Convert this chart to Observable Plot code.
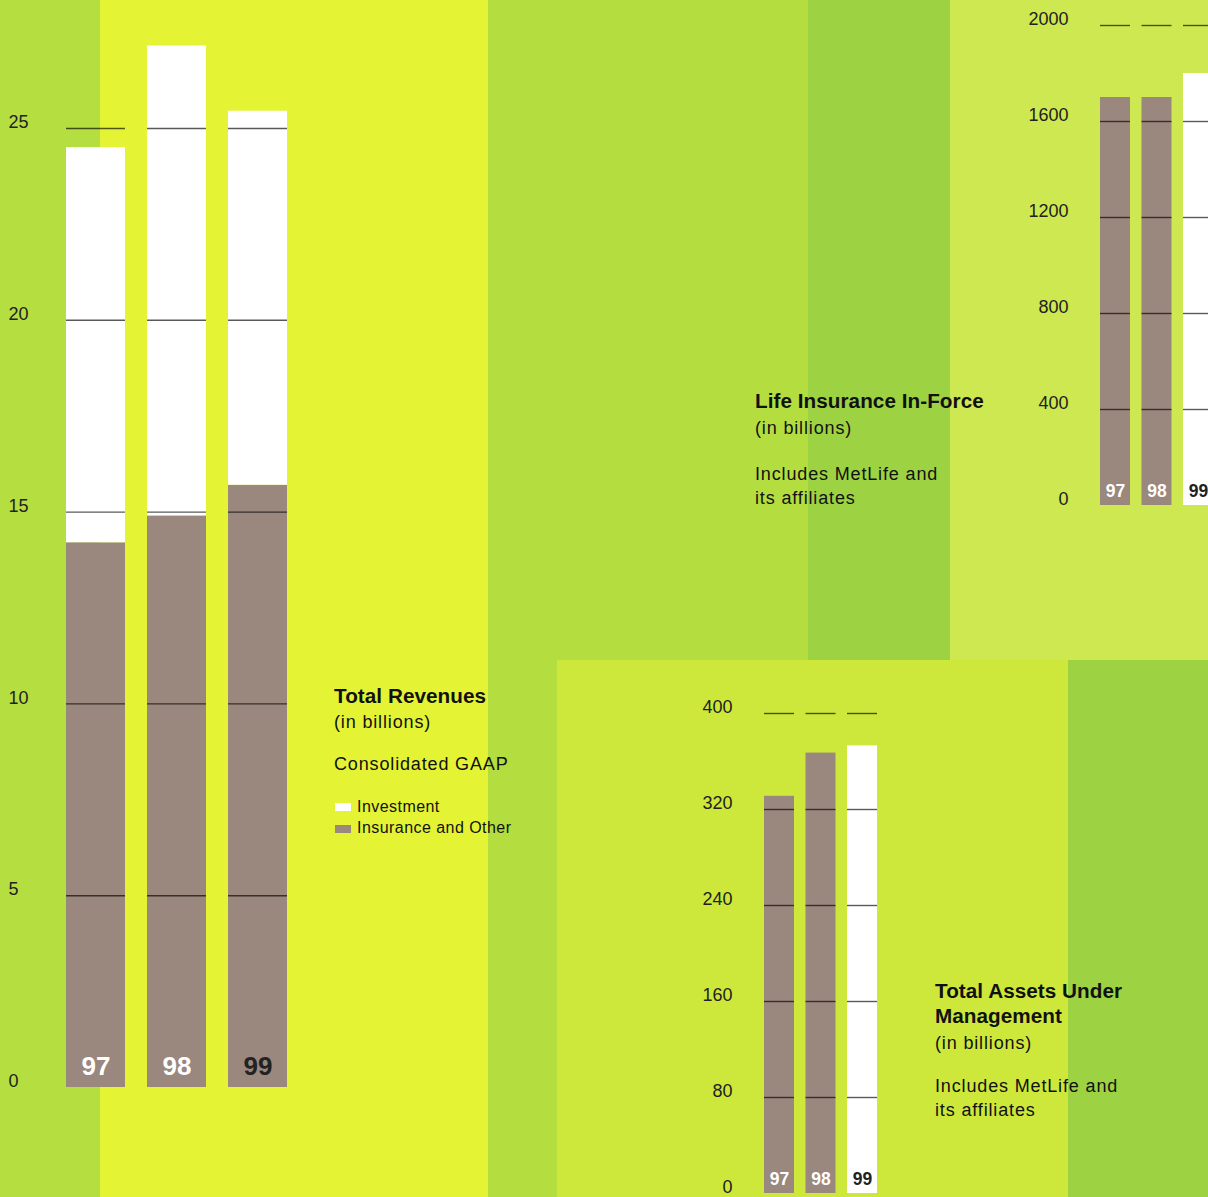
<!DOCTYPE html>
<html><head><meta charset="utf-8">
<script src="https://cdn.jsdelivr.net/npm/d3@7"></script>
<script src="https://cdn.jsdelivr.net/npm/@observablehq/plot@0.6"></script>
<style>
body{margin:0;}
#page{position:relative;width:1208px;height:1197px;overflow:hidden;font-family:"Liberation Sans",Arial,sans-serif;color:#111;}
.bg{position:absolute;}
#page svg{position:absolute;left:0;top:0;}
.t{position:absolute;white-space:nowrap;line-height:1;}
.b{font-weight:bold;font-size:20.7px;letter-spacing:0.05px;}
.r{font-size:18px;letter-spacing:0.85px;}
.lg{font-size:16px;letter-spacing:0.45px;}
.sw{position:absolute;width:16px;height:8px;}
</style></head><body><div id="page"></div>
<script>
// ---- data ----
const years = ["97", "98", "99"];

// Total Revenues (in billions)
const revSeries = ["Insurance and Other", "Investment"];
const revInsurance = [14.2, 14.9, 15.7];
const revInvestment = [10.3, 12.25, 9.75];
const revTicks = [0, 5, 10, 15, 20, 25];

// Life Insurance In-Force (in billions)
const lifeValues = [1700, 1700, 1800];
const lifeTicks = [0, 400, 800, 1200, 1600, 2000];

// Total Assets Under Management (in billions)
const assetsValues = [331, 367, 373];
const assetsTicks = [0, 80, 160, 240, 320, 400];

// ---- styling ----
const BROWN = "#9a877d";
const FONT = '"Liberation Sans", Arial, sans-serif';
const page = document.getElementById("page");

const bgs = [
  [0, 0, 100, 1197, "#b5de41"],
  [100, 0, 388, 1197, "#e4f435"],
  [488, 0, 320, 1197, "#b4dd3f"],
  [808, 0, 142, 660, "#9dd342"],
  [950, 0, 258, 660, "#cee851"],
  [557, 660, 511, 537, "#cde83b"],
  [1068, 660, 140, 537, "#9dd342"]
];
for (const [l, t, w, h, c] of bgs) {
  const d = document.createElement("div");
  d.className = "bg";
  Object.assign(d.style, {left: l + "px", top: t + "px", width: w + "px", height: h + "px", background: c});
  page.appendChild(d);
}

const baseStyle = {background: "transparent", fontFamily: FONT, fontSize: "18px", color: "#222", maxWidth: "none"};
const labelFill = d => d === "99" ? "#222" : "#fff";
const fmt = d3.format("d");

function grid(ticks) {
  return years.flatMap(y => ticks.filter(t => t > 0).map(v => ({year: y, v})));
}

// Chart 1: Total Revenues
const revData = years.flatMap((y, i) => [
  {year: y, series: revSeries[0], value: revInsurance[i]},
  {year: y, series: revSeries[1], value: revInvestment[i]}
]);
page.appendChild(Plot.plot({
  width: 1208, height: 1197,
  marginLeft: 66, marginTop: 0, marginBottom: 0, marginRight: 0,
  style: baseStyle,
  x: {type: "band", domain: years, range: [66, 287], paddingInner: 0.272, paddingOuter: 0, round: false, axis: null},
  y: {domain: [0, 25], range: [1087, 128], axis: null},
  color: {domain: revSeries, range: [BROWN, "#ffffff"]},
  marks: [
    Plot.barY(revData, {x: "year", y: "value", fill: "series", order: revSeries, inset: 0}),
    Plot.tickY(grid(revTicks), {x: "year", y: "v", stroke: "#000", strokeOpacity: 0.65, strokeWidth: 1.4}),
    Plot.axisY({ticks: revTicks, tickFormat: fmt, tickSize: 0, tickPadding: 3, textAnchor: "start", dx: -55, dy: -6, label: null, fontSize: 18}),
    Plot.text(years, {x: d => d, y: () => 0, dy: -21, text: d => d, fill: labelFill, fontWeight: "bold", fontSize: 26})
  ]
}));

// Chart 2: Life Insurance In-Force
page.appendChild(Plot.plot({
  width: 1208, height: 1197,
  marginLeft: 1100, marginTop: 0, marginBottom: 0, marginRight: 0,
  style: baseStyle,
  x: {type: "band", domain: years, range: [1100, 1213], paddingInner: 0.277, paddingOuter: 0, round: false, axis: null},
  y: {domain: [0, 2000], range: [505, 25], axis: null},
  color: {domain: years, range: [BROWN, BROWN, "#ffffff"]},
  marks: [
    Plot.barY(years.map((y, i) => ({year: y, value: lifeValues[i]})), {x: "year", y: "value", fill: "year", inset: 0}),
    Plot.tickY(grid(lifeTicks), {x: "year", y: "v", stroke: "#000", strokeOpacity: 0.65, strokeWidth: 1.4}),
    Plot.axisY({ticks: lifeTicks, tickFormat: fmt, tickSize: 0, tickPadding: 32, dy: -6, label: null, fontSize: 18}),
    Plot.text(years, {x: d => d, y: () => 0, dy: -14, text: d => d, fill: labelFill, fontWeight: "bold", fontSize: 17.5})
  ]
}));

// Chart 3: Total Assets Under Management
page.appendChild(Plot.plot({
  width: 1208, height: 1197,
  marginLeft: 764, marginTop: 0, marginBottom: 0, marginRight: 0,
  style: baseStyle,
  x: {type: "band", domain: years, range: [764, 877], paddingInner: 0.277, paddingOuter: 0, round: false, axis: null},
  y: {domain: [0, 400], range: [1193, 713], axis: null},
  color: {domain: years, range: [BROWN, BROWN, "#ffffff"]},
  marks: [
    Plot.barY(years.map((y, i) => ({year: y, value: assetsValues[i]})), {x: "year", y: "value", fill: "year", inset: 0}),
    Plot.tickY(grid(assetsTicks), {x: "year", y: "v", stroke: "#000", strokeOpacity: 0.65, strokeWidth: 1.4}),
    Plot.axisY({ticks: assetsTicks, tickFormat: fmt, tickSize: 0, tickPadding: 32, dy: -6, label: null, fontSize: 18}),
    Plot.text(years, {x: d => d, y: () => 0, dy: -14, text: d => d, fill: labelFill, fontWeight: "bold", fontSize: 17.5})
  ]
}));

// ---- text blocks ----
function txt(s, cls, left, top) {
  const d = document.createElement("div");
  d.className = "t " + cls;
  d.textContent = s;
  d.style.left = left + "px";
  d.style.top = top + "px";
  page.appendChild(d);
}
txt("Total Revenues", "b", 334, 686);
txt("(in billions)", "r", 334, 713);
txt("Consolidated GAAP", "r", 334, 755);
const legendColors = {"Investment": "#ffffff", "Insurance and Other": BROWN};
["Investment", "Insurance and Other"].forEach((s, i) => {
  const sw = document.createElement("div");
  sw.className = "sw";
  sw.style.left = "335px";
  sw.style.top = (803 + i * 22) + "px";
  sw.style.background = legendColors[s];
  page.appendChild(sw);
  txt(s, "lg", 357, 799 + i * 21);
});

txt("Life Insurance In-Force", "b", 755, 391);
txt("(in billions)", "r", 755, 419);
txt("Includes MetLife and", "r", 755, 465);
txt("its affiliates", "r", 755, 489);

txt("Total Assets Under", "b", 935, 981);
txt("Management", "b", 935, 1006);
txt("(in billions)", "r", 935, 1034);
txt("Includes MetLife and", "r", 935, 1077);
txt("its affiliates", "r", 935, 1101);
</script>
</body></html>
